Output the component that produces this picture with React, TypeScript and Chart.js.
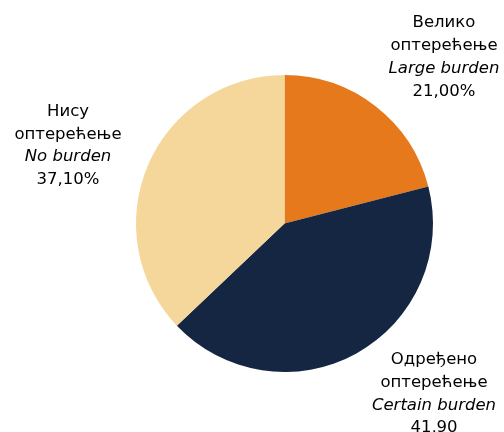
import React, { useEffect, useRef } from "react";
import { Chart, registerables } from "chart.js";

Chart.register(...registerables);

const categoriesSr = ["Велико оптерећење", "Одређено оптерећење", "Нису оптерећење"];
const categoriesEn = ["Large burden", "Certain burden", "No burden"];
const values = [21.0, 41.9, 37.1];
const valueLabels = ["21,00%", "41,90", "37,10%"];
const colors = ["#E5791B", "#142641", "#F6D79B"];

// label line layout: [first line, second line] per category
const srLines = [
  ["Велико", "оптерећење"],
  ["Одређено", "оптерећење"],
  ["Нису", "оптерећење"],
];

const labelPlugin = {
  id: "pieLabels",
  afterDraw(chart: any) {
    const ctx = chart.ctx;
    const anchors = [
      { x: 444, y: 27.3 },
      { x: 434, y: 364 },
      { x: 68, y: 115.7 },
    ];
    const lh = 22.8;
    ctx.save();
    ctx.fillStyle = "#000000";
    ctx.textAlign = "center";
    ctx.textBaseline = "alphabetic";
    anchors.forEach((a, i) => {
      const lines = [srLines[i][0], srLines[i][1], categoriesEn[i], valueLabels[i]];
      lines.forEach((t, j) => {
        ctx.font = (j === 2 ? "italic " : "") + "16.5px 'DejaVu Sans'";
        ctx.fillText(t, a.x, a.y + j * lh);
      });
    });
    ctx.restore();
  },
};

export default function App() {
  const ref = useRef<HTMLCanvasElement | null>(null);
  useEffect(() => {
    if (!ref.current) return;
    const chart = new Chart(ref.current, {
      type: "pie",
      data: {
        labels: categoriesSr,
        datasets: [
          {
            data: values,
            backgroundColor: colors,
            borderWidth: 0,
          },
        ],
      },
      options: {
        animation: false,
        responsive: true,
        maintainAspectRatio: false,
        layout: { padding: { top: 75, bottom: 60, left: 136, right: 71 } },
        plugins: {
          legend: { display: false },
          tooltip: { enabled: false },
        },
      },
      plugins: [labelPlugin],
    });
    return () => chart.destroy();
  }, []);
  return (
    <div style={{ position: "absolute", left: 0, top: 0, width: 504, height: 432, background: "#fff" }}>
      <canvas ref={ref} />
    </div>
  );
}
